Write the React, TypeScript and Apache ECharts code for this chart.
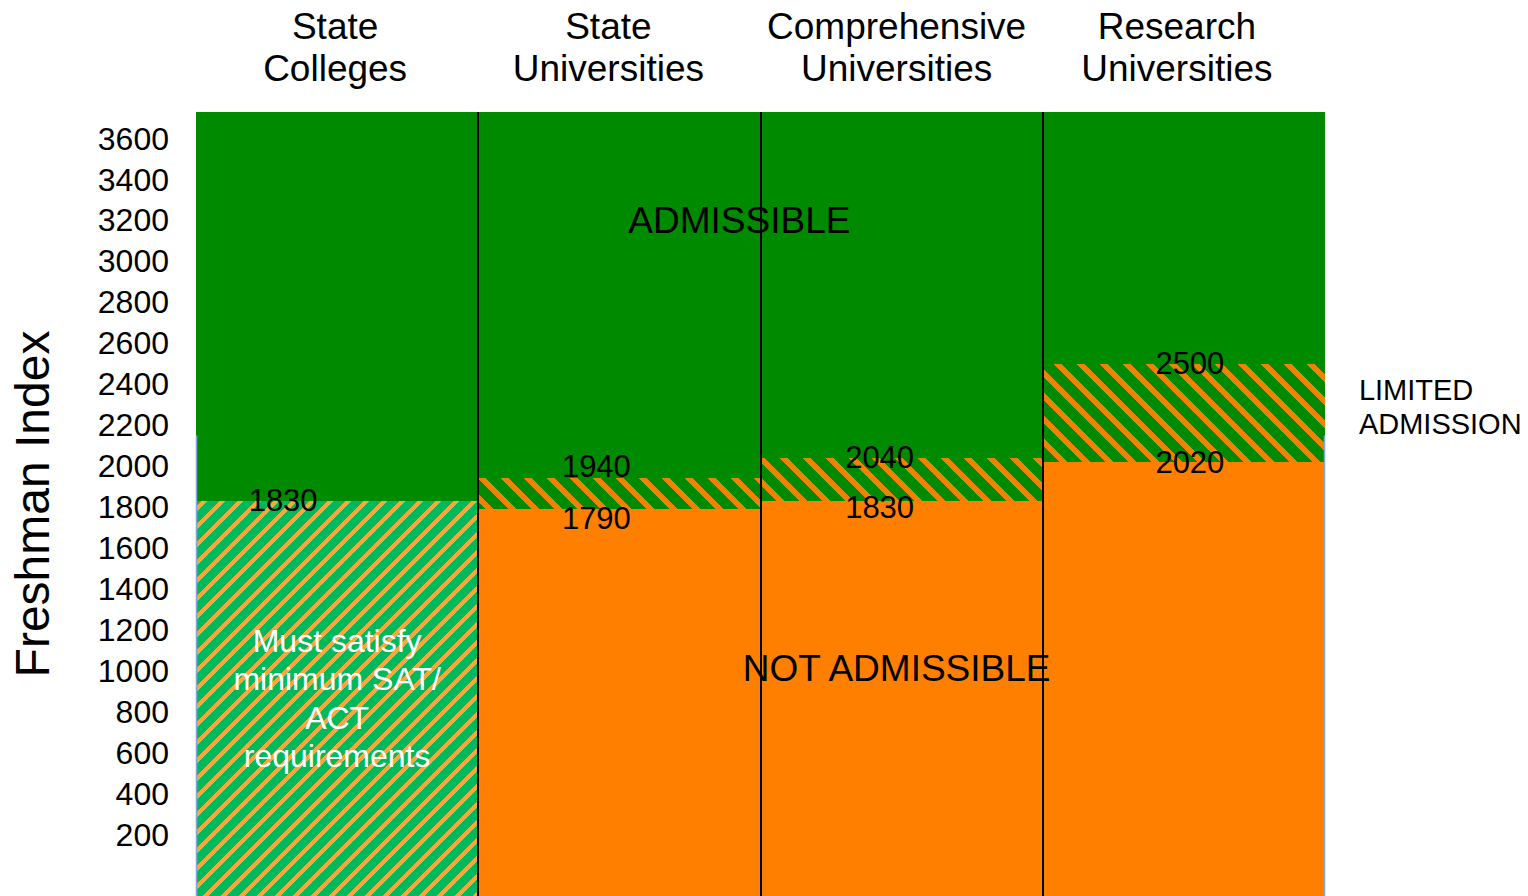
import React, { useEffect, useRef } from 'react';
import * as echarts from 'echarts';

// ---- data ----
const categories = ['State\nColleges', 'State\nUniversities', 'Comprehensive\nUniversities', 'Research\nUniversities'];
// lower and upper bound of the "limited admission" band per category (Freshman Index)
const limitedLow = [1830, 1790, 1830, 2020];
const limitedHigh = [1830, 1940, 2040, 2500];
const yTickLabels = [200, 400, 600, 800, 1000, 1200, 1400, 1600, 1800, 2000, 2200, 2400, 2600, 2800, 3000, 3200, 3400, 3600];
const zoneTexts = ['ADMISSIBLE', 'NOT ADMISSIBLE', 'LIMITED\nADMISSION', 'Must satisfy\nminimum SAT/\nACT\nrequirements'];

// ---- layout / style ----
const Y_MIN = -100;
const Y_MAX = 3730;
const FONT = '"Liberation Sans", Arial, Helvetica, sans-serif';
const GREEN = '#008a00';
const ORANGE = '#ff7f00';

// offsets of boundary value labels [dx, dy] (px), by category: [high, low]
const boundaryLabelOffsets = [
  [[-54, 0], null],
  [[-23, -12], [-23, 9]],
  [[-22, 0], [-22, 7]],
  [[6, 0], [6, 0]],
];
// anchor of zone texts: [catIndex, value, dx, dy, align, fontSize, lineHeight, color]
const zoneLayout: any[] = [
  [1, 3200, 120, 0, 'center', 37, 40, '#000'],
  [2, 1000, -5, -2, 'center', 37, 40, '#000'],
  [3, 2290, 175, 0, 'left', 29, 34, '#000'],
  [0, 865, 0, 0, 'center', 32, 38.5, '#fff'],
];
// per-header horizontal nudges (padding [t, r, b, l])
const headerPadding = [[0, 4, 0, 0], [0, 22, 0, 0], [0, 10, 0, 0], [0, 14, 0, 0]];

function hexToRgb(h: string) {
  const n = parseInt(h.slice(1), 16);
  return [(n >> 16) & 255, (n >> 8) & 255, n & 255];
}

function makeStripes(bg: string, fg: string, period: number, stripeW: number, dir: string) {
  const c = document.createElement('canvas');
  c.width = period;
  c.height = period;
  const ctx = c.getContext('2d')!;
  const img = ctx.createImageData(period, period);
  const b = hexToRgb(bg);
  const f = hexToRgb(fg);
  for (let y = 0; y < period; y++) {
    for (let x = 0; x < period; x++) {
      const t = dir === '/' ? (x + y) % period : (((x - y) % period) + period) % period;
      const col = t < stripeW ? f : b;
      const i = (y * period + x) * 4;
      img.data[i] = col[0];
      img.data[i + 1] = col[1];
      img.data[i + 2] = col[2];
      img.data[i + 3] = 255;
    }
  }
  ctx.putImageData(img, 0, 0);
  return { image: c, repeat: 'repeat', imageWidth: period, imageHeight: period } as any;
}

export default function App() {
  const ref = useRef<HTMLDivElement>(null);

  useEffect(() => {
    document.body.style.margin = '0';
    if (!ref.current) return;
    const chart = echarts.init(ref.current, undefined, { renderer: 'svg' });

    const fills = [
      GREEN, // 0 admissible
      makeStripes(GREEN, '#f08200', 23, 8, '\\'), // 1 limited
      ORANGE, // 2 not admissible
      makeStripes('#00b95c', '#f9a63c', 18, 6, '/'), // 3 SAT/ACT requirement
    ];

    // bands: [catIndex, low, high, fillIndex]
    const bands: number[][] = [];
    categories.forEach((_, i) => {
      bands.push([i, limitedHigh[i], Y_MAX, 0]);
      if (limitedHigh[i] > limitedLow[i]) bands.push([i, limitedLow[i], limitedHigh[i], 1]);
      bands.push([i, Y_MIN, limitedLow[i], i === 0 ? 3 : 2]);
    });

    // boundary labels: [catIndex, value, offsetIndex(0 high / 1 low)]
    const boundaryData: number[][] = [];
    categories.forEach((_, i) => {
      boundaryData.push([i, limitedHigh[i], 0]);
      if (limitedLow[i] !== limitedHigh[i]) boundaryData.push([i, limitedLow[i], 1]);
    });

    const zoneData = zoneLayout.map((z, k) => [z[0], z[1], k]);

    // dividers: [boundaryIndex 0..4, topValue, kind(0 black,1 faint edge)]
    const dividerData = [
      [1, Y_MAX, 0],
      [2, Y_MAX, 0],
      [3, Y_MAX, 0],
      [0, 2150, 1],
      [4, 2150, 1],
    ];

    const option: any = {
      animation: false,
      textStyle: { fontFamily: FONT },
      grid: { left: 194, right: 203, top: 112, bottom: 0, containLabel: false },
      xAxis: {
        type: 'category',
        position: 'top',
        data: categories.map((c, i) => ({
          value: c,
          textStyle: { padding: headerPadding[i] },
        })),
        boundaryGap: true,
        axisLine: { show: false },
        axisTick: { show: false },
        splitLine: { show: false },
        axisLabel: {
          interval: 0,
          fontSize: 37,
          lineHeight: 42,
          color: '#000',
          margin: 23,
          fontFamily: FONT,
        },
      },
      yAxis: {
        type: 'value',
        min: Y_MIN,
        max: Y_MAX,
        interval: 100,
        name: 'Freshman Index',
        nameLocation: 'middle',
        nameRotate: 90,
        nameGap: 140,
        nameTextStyle: { fontSize: 48, color: '#000', fontFamily: FONT },
        axisLine: { show: false },
        axisTick: { show: false },
        splitLine: { show: false },
        axisLabel: {
          fontSize: 32,
          color: '#000',
          margin: 27,
          fontFamily: FONT,
          formatter: (v: number) => (yTickLabels.includes(v) ? String(v) : ''),
        },
      },
      series: [
        {
          type: 'custom',
          name: 'zones',
          data: bands,
          silent: true,
          clip: true,
          renderItem: (params: any, api: any) => {
            const ci = api.value(0);
            const lo = api.value(1);
            const hi = api.value(2);
            const kind = api.value(3);
            const pTop = api.coord([ci, hi]);
            const pBot = api.coord([ci, lo]);
            const w = api.size([1, 0])[0];
            const x0 = Math.round(pTop[0] - w / 2);
            const x1 = Math.round(pTop[0] + w / 2);
            const y0 = Math.round(pTop[1]);
            const y1 = Math.round(pBot[1]);
            return {
              type: 'rect',
              shape: { x: x0, y: y0, width: x1 - x0, height: y1 - y0 },
              style: { fill: fills[kind] },
            };
          },
        },
        {
          type: 'custom',
          name: 'dividers',
          data: dividerData,
          silent: true,
          clip: false,
          renderItem: (params: any, api: any) => {
            const bi = api.value(0);
            const top = api.value(1);
            const kind = api.value(2);
            const ci = Math.min(bi, categories.length - 1);
            const p = api.coord([ci, top]);
            const pb = api.coord([ci, Y_MIN]);
            const w = api.size([1, 0])[0];
            let x = bi < categories.length ? p[0] - w / 2 : p[0] + w / 2;
            x = Math.round(x);
            if (kind === 1) x += bi === 0 ? 0.5 : -0.5;
            return {
              type: 'line',
              shape: { x1: x, y1: p[1], x2: x, y2: pb[1] },
              style: kind === 0 ? { stroke: '#000', lineWidth: 2 } : { stroke: '#7ea6dc', lineWidth: 1.5 },
            };
          },
        },
        {
          type: 'custom',
          name: 'boundaryLabels',
          data: boundaryData,
          silent: true,
          clip: false,
          renderItem: (params: any, api: any) => {
            const ci = api.value(0);
            const v = api.value(1);
            const oi = api.value(2);
            const p = api.coord([ci, v]);
            const off = boundaryLabelOffsets[ci][oi] || [0, 0];
            return {
              type: 'text',
              x: p[0] + off[0],
              y: p[1] + off[1],
              style: {
                text: String(v),
                fill: '#000',
                fontSize: 31,
                fontFamily: FONT,
                align: 'center',
                verticalAlign: 'middle',
              },
            };
          },
        },
        {
          type: 'custom',
          name: 'zoneLabels',
          data: zoneData,
          silent: true,
          clip: false,
          renderItem: (params: any, api: any) => {
            const k = api.value(2);
            const z = zoneLayout[k];
            const p = api.coord([api.value(0), api.value(1)]);
            return {
              type: 'text',
              x: p[0] + z[2],
              y: p[1] + z[3],
              style: {
                text: zoneTexts[k],
                fill: z[7],
                fontSize: z[5],
                fontFamily: FONT,
                lineHeight: z[6],
                align: z[4],
                verticalAlign: 'middle',
              },
            };
          },
        },
      ],
    };

    chart.setOption(option);
    return () => chart.dispose();
  }, []);

  return <div ref={ref} style={{ width: 1528, height: 896 }} />;
}
